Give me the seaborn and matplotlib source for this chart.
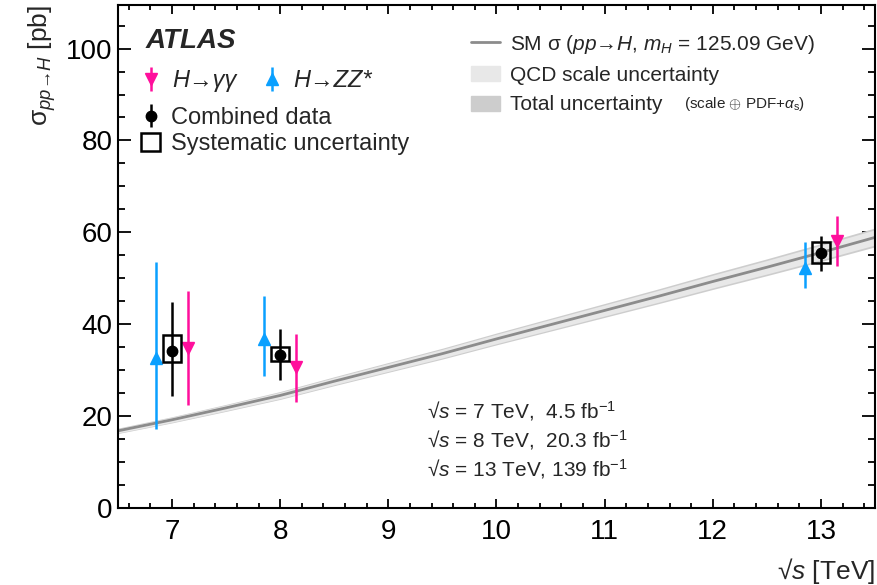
import numpy as np
import seaborn as sns
import matplotlib.pyplot as plt
from matplotlib.lines import Line2D
from matplotlib.patches import Patch, Rectangle

# SM prediction
sm_sqrts = [6.5, 7.0, 7.5, 8.0, 8.5, 9.0, 9.5, 10.0, 10.5, 11.0, 11.5, 12.0, 12.5, 13.0, 13.5]
sm_xs = [16.8, 19.2, 21.8, 24.5, 27.6, 30.6, 33.6, 36.8, 39.9, 43.0, 46.1, 49.3, 52.4, 55.6, 58.9]
sm_tot_err = [0.59, 0.67, 0.76, 0.86, 0.97, 1.07, 1.18, 1.29, 1.40, 1.51, 1.61, 1.73, 1.83, 1.95, 2.06]
sm_qcd_err = [0.47, 0.54, 0.61, 0.69, 0.77, 0.86, 0.94, 1.03, 1.12, 1.20, 1.29, 1.38, 1.47, 1.56, 1.65]

# measurements
energies = [7, 8, 13]
comb_val = [34.2, 33.3, 55.4]
comb_lo = [24.4, 27.9, 51.6]
comb_hi = [44.8, 38.9, 59.3]
comb_sys_lo = [31.8, 31.9, 53.3]
comb_sys_hi = [37.6, 35.0, 57.8]

gg_x = [7.15, 8.15, 13.15]
gg_val = [34.9, 30.8, 58.2]
gg_lo = [22.4, 23.1, 52.7]
gg_hi = [47.3, 37.8, 63.5]

zz_x = [6.85, 7.85, 12.85]
zz_val = [32.6, 36.7, 52.3]
zz_lo = [17.3, 28.7, 47.8]
zz_hi = [53.5, 46.2, 58.0]

lumi_lines = [u"\u221a$s$ = 7 TeV,  4.5 fb$^{\\mathregular{-1}}$",
              u"\u221a$s$ = 8 TeV,  20.3 fb$^{\\mathregular{-1}}$",
              u"\u221a$s$ = 13 TeV, 139 fb$^{\\mathregular{-1}}$"]

pink = '#ff0f9c'
blue = '#0aa0ff'

sns.set_theme(style='ticks')
plt.rcParams['font.family'] = ['Liberation Sans', 'DejaVu Sans']
plt.rcParams['mathtext.fontset'] = 'custom'
plt.rcParams['mathtext.rm'] = 'Liberation Sans'
plt.rcParams['mathtext.it'] = 'Liberation Sans:italic'
plt.rcParams['mathtext.bf'] = 'Liberation Sans:bold'

fig = plt.figure(figsize=(8.77, 5.85), dpi=100)
ax = fig.add_axes([0.1345, 0.1316, 0.8632, 0.86])

sm_lo_tot = np.array(sm_xs) - np.array(sm_tot_err)
sm_hi_tot = np.array(sm_xs) + np.array(sm_tot_err)
sm_lo_qcd = np.array(sm_xs) - np.array(sm_qcd_err)
sm_hi_qcd = np.array(sm_xs) + np.array(sm_qcd_err)
ax.fill_between(sm_sqrts, sm_lo_tot, sm_hi_tot, color='#cdcdcd', lw=0, zorder=1)
ax.fill_between(sm_sqrts, sm_lo_qcd, sm_hi_qcd, color='#e8e8e8', lw=0, zorder=1)
sns.lineplot(x=sm_sqrts, y=sm_xs, color='#8c8c8c', lw=2.0, ax=ax, zorder=2)

# channels
def asym(val, lo, hi):
    v = np.array(val)
    return [v - np.array(lo), np.array(hi) - v]

h_gg = ax.errorbar(gg_x, gg_val, yerr=asym(gg_val, gg_lo, gg_hi), fmt='v', color=pink,
                   ms=9, elinewidth=1.8, capsize=0, zorder=4)
h_zz = ax.errorbar(zz_x, zz_val, yerr=asym(zz_val, zz_lo, zz_hi), fmt='^', color=blue,
                   ms=9, elinewidth=1.8, capsize=0, zorder=4)

# systematic boxes
for e, lo, hi in zip(energies, comb_sys_lo, comb_sys_hi):
    ax.add_patch(Rectangle((e - 0.085, lo), 0.17, hi - lo, fill=False, ec='black', lw=1.8, zorder=5))
h_comb = ax.errorbar(energies, comb_val, yerr=asym(comb_val, comb_lo, comb_hi), fmt='o', color='black',
                     ms=7.5, elinewidth=1.8, capsize=0, zorder=6)

ax.set_xlim(6.5, 13.5)
ax.set_ylim(0, 109.5)
ax.set_xticks(range(7, 14))
ax.set_yticks([0, 20, 40, 60, 80, 100])
ax.set_xticks(np.arange(6.6, 13.5, 0.2), minor=True)
ax.set_yticks(np.arange(0, 110, 5), minor=True)
ax.tick_params(which='both', direction='in', top=True, right=True, width=1.3, colors='black')
ax.tick_params(axis='x', which='major', length=6.5, pad=8, labelsize=20)
ax.tick_params(axis='x', which='minor', length=3.6)
ax.tick_params(axis='y', which='major', length=9.5, pad=4, labelsize=20)
ax.tick_params(axis='y', which='minor', length=5)
for sp in ax.spines.values():
    sp.set_linewidth(1.5)
    sp.set_color('black')

ax.set_xlabel(u"\u221a$s$ [TeV]", fontsize=19, loc='right', labelpad=8)
ax.set_ylabel(u"$\\mathregular{\\sigma}_{pp\u2192H}$ [pb]", fontsize=19, loc='top', labelpad=6)

# left legend
ax.text(0.037, 0.928, 'ATLAS', transform=ax.transAxes, fontsize=20, fontweight='bold',
        fontstyle='italic', va='center', ha='left')
leg1 = ax.legend([h_gg, h_zz], [u"H\u2192\u03b3\u03b3", u"H\u2192ZZ*"],
                 ncol=2, loc='upper left', bbox_to_anchor=(0.028, 0.872), frameon=False,
                 prop={'size': 17, 'style': 'italic'}, handlelength=1.0, handletextpad=0.4,
                 columnspacing=1.0, borderpad=0, borderaxespad=0)
ax.add_artist(leg1)
leg2 = ax.legend([h_comb, Patch(fc='none', ec='black', lw=1.8)],
                 ['Combined data', 'Systematic uncertainty'],
                 loc='upper left', bbox_to_anchor=(0.031, 0.797), frameon=False, fontsize=17,
                 handlelength=0.8, handleheight=0.8, handletextpad=0.45, labelspacing=0.15,
                 borderpad=0, borderaxespad=0)
ax.add_artist(leg2)

# right legend
leg3 = ax.legend([Line2D([], [], color='#8c8c8c', lw=2.0), Patch(color='#e8e8e8'), Patch(color='#cdcdcd')],
                 [u"SM \u03c3 ($pp$\u2192$H$, $m_H$ = 125.09 GeV)",
                  'QCD scale uncertainty', 'Total uncertainty'],
                 loc='upper left', bbox_to_anchor=(0.467, 0.945), frameon=False, fontsize=15,
                 handlelength=1.35, handleheight=0.75, handletextpad=0.5, labelspacing=0.5,
                 borderpad=0, borderaxespad=0)
ax.text(0.748, 0.803, r"(scale $\oplus$ PDF+$\alpha_{\mathregular{s}}$)", transform=ax.transAxes,
        fontsize=11, va='center', ha='left')

for i, t in enumerate(lumi_lines):
    ax.text(0.408, 0.192 - i * 0.057, t, transform=ax.transAxes, fontsize=15, va='center', ha='left')

fig.savefig('out.png', dpi=100)
